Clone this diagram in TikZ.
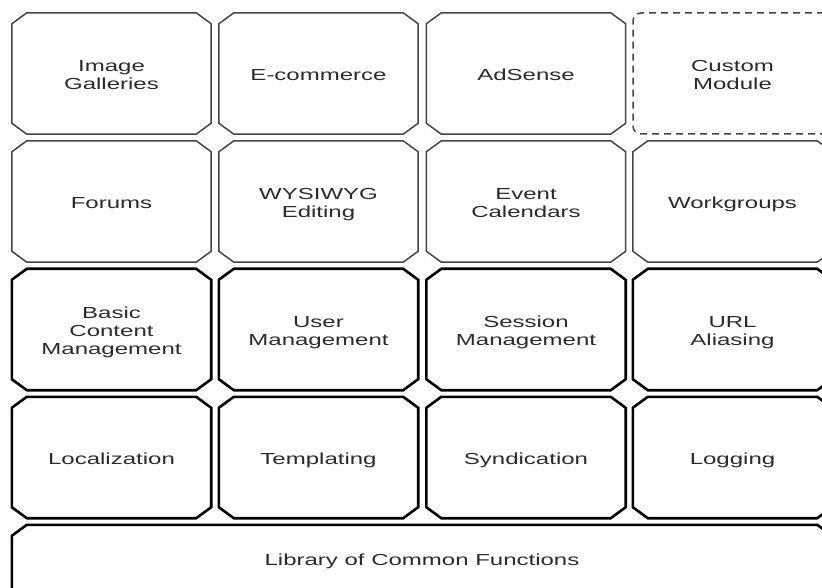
\documentclass[tikz,border=0pt]{standalone}
\usepackage{fontspec}
\setmainfont{Liberation Sans}[FakeStretch=1.5]

\definecolor{edgegray}{HTML}{444444}
\definecolor{labelgray}{HTML}{2A2A2A}

% outline with cut corners round a named node
\newcommand\chamferbox[2]{%
  \draw[#2] ([xshift=15pt]#1.north west) -- ([xshift=-15pt]#1.north east)
    -- ([yshift=-11pt]#1.north east) -- ([yshift=11pt]#1.south east)
    -- ([xshift=-15pt]#1.south east) -- ([xshift=15pt]#1.south west)
    -- ([yshift=11pt]#1.south west) -- ([yshift=-11pt]#1.north west) -- cycle;}
% taller first line, so stacked labels sit a little lower
\newcommand\padtop{\rule{0pt}{19pt}}

\begin{document}
\begin{tikzpicture}[x=1pt,y=1pt]
      \tikzset{
        every node/.style={align=center,text=labelgray,
          font=\fontsize{16}{18}\selectfont,
          execute at begin node=\rule{0pt}{19pt},
          execute at end node=\rule[-5.4pt]{0pt}{0pt}},
        module/.style={rectangle,minimum width=199pt,minimum height=121pt,inner sep=0pt},
        addon/.style={draw=edgegray,line width=1.5pt,line join=miter},
        core/.style={draw=black,line width=2.6pt,line join=miter},
        custom/.style={module,rounded corners=8pt,draw=edgegray,
          line width=1.5pt,dash pattern=on 7pt off 5pt}
      }
      \useasboundingbox (0,0) rectangle (822,587);
      \clip (0,0) rectangle (822,587);

        % optional modules
        \node[module] (gallery)  at (111.5,513.5) {\padtop Image\\Galleries};
        \node[module] (shop)     at (318.5,513.5) {E-commerce};
        \node[module] (adsense)  at (526.0,513.5) {AdSense};
        \node[custom] (custom)   at (732.5,513.5) {\padtop Custom\\Module};

        \node[module] (forums)   at (111.5,385.5) {Forums};
        \node[module] (wysiwyg)  at (318.5,385.5) {\padtop WYSIWYG\\Editing};
        \node[module] (calendar) at (526.0,385.5) {\padtop Event\\Calendars};
        \node[module] (groups)   at (732.5,385.5) {Workgroups};

        % core modules
        \node[module] (content)  at (111.5,257.5) {\padtop Basic\\Content\\Management};
        \node[module] (users)    at (318.5,257.5) {\padtop User\\Management};
        \node[module] (session)  at (526.0,257.5) {\padtop Session\\Management};
        \node[module] (alias)    at (732.5,257.5) {\padtop URL\\Aliasing};

        \node[module] (locale)   at (111.5,129.5) {Localization};
        \node[module] (theme)    at (318.5,129.5) {Templating};
        \node[module] (feeds)    at (526.0,129.5) {Syndication};
        \node[module] (log)      at (732.5,129.5) {Logging};

        % shared library along the bottom
        \node[module,minimum width=820pt] (library) at (422,1.5) {};
        \node (libtext) at (library.center) [yshift=27pt] {Library of Common Functions};

        \chamferbox{gallery}{addon}
        \chamferbox{shop}{addon}
        \chamferbox{adsense}{addon}
        \chamferbox{forums}{addon}
        \chamferbox{wysiwyg}{addon}
        \chamferbox{calendar}{addon}
        \chamferbox{groups}{addon}

        \chamferbox{content}{core}
        \chamferbox{users}{core}
        \chamferbox{session}{core}
        \chamferbox{alias}{core}
        \chamferbox{locale}{core}
        \chamferbox{theme}{core}
        \chamferbox{feeds}{core}
        \chamferbox{log}{core}
        \chamferbox{library}{core}
    \end{tikzpicture}
\end{document}
